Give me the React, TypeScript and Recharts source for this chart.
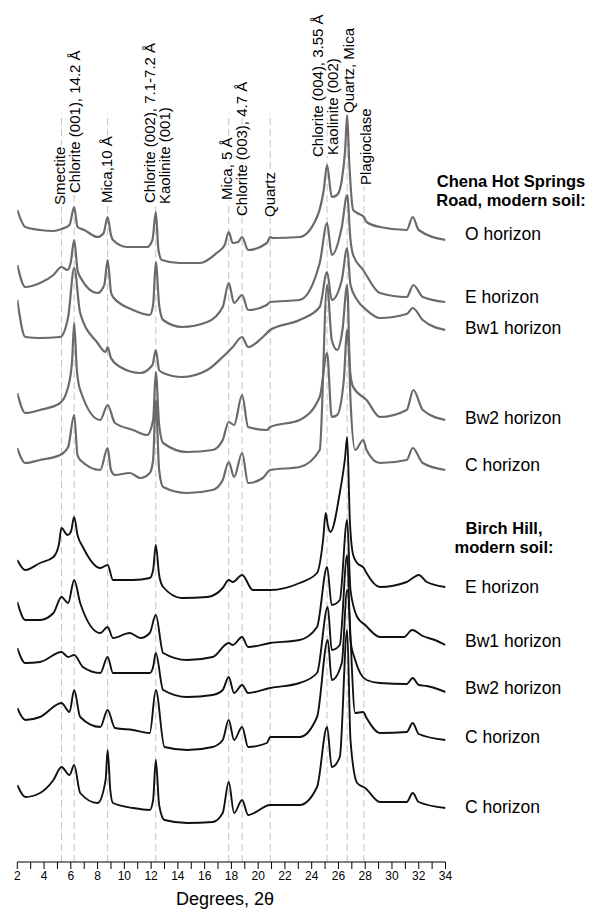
import React from 'react'
import { ComposedChart, Line, XAxis, YAxis, ReferenceLine } from 'recharts'

type Pt = [number, number]

const FONT = '"Liberation Sans", Arial, Helvetica, sans-serif'

// 2-theta ticks (every degree, labels on even ones)
const twoThetaTicks = [2, 3, 4, 5, 6, 7, 8, 9, 10, 11, 12, 13, 14, 15, 16, 17, 18, 19, 20, 21, 22, 23, 24, 25, 26, 27, 28, 29, 30, 31, 32, 33, 34]

// reference peak positions, degrees 2-theta
const peakPositions = [5.3, 6.25, 8.75, 12.35, 17.8, 18.8, 20.9, 25.15, 26.65, 27.9]

// stacked intensities [2-theta, offset counts]
const chenaO: Pt[] = [
  [2.0, 652], [2.6, 635], [3.7, 632], [4.7, 631], [5.3, 633], [5.9, 637], [6.25, 655], [6.5, 635], [7.0, 632],
  [8.0, 625], [8.45, 629], [8.75, 645], [9.0, 627], [9.15, 622], [10.2, 615], [11.7, 615], [12.1, 622], [12.35, 650],
  [12.55, 612], [12.8, 602], [14.1, 599], [15.65, 599], [16.9, 609], [17.5, 617], [17.8, 630], [18.1, 619], [18.5, 620],
  [18.8, 625], [19.25, 612], [20.65, 619], [20.9, 625], [21.1, 624], [23.1, 625], [24.4, 645], [24.9, 672], [25.15, 697],
  [25.5, 665], [25.9, 667], [26.25, 682], [26.5, 712], [26.65, 747], [26.8, 702], [27.1, 652], [27.4, 649], [27.9, 645],
  [28.1, 640], [29.1, 635], [31.1, 632], [31.55, 645], [32.0, 632], [34.0, 622],
]

const chenaE: Pt[] = [
  [2.0, 597], [2.6, 575], [3.7, 579], [4.7, 587], [5.3, 595], [5.75, 592], [6.0, 600], [6.25, 622], [6.5, 592], [6.7, 585],
  [8.0, 569], [8.5, 577], [8.75, 602], [9.0, 570], [9.15, 565], [10.65, 552], [11.9, 547], [12.15, 557], [12.35, 600],
  [12.6, 557], [12.9, 542], [14.3, 535], [16.2, 540], [17.35, 555], [17.8, 579], [18.2, 559], [18.8, 567], [19.25, 552],
  [20.65, 557], [20.9, 560], [23.1, 562], [24.6, 599], [25.15, 639], [25.5, 607], [26.25, 635], [26.65, 667], [26.9, 622],
  [27.1, 607], [27.85, 592], [29.1, 569], [31.1, 565], [31.6, 577], [32.3, 565], [34.0, 560],
]

const chenaBw1: Pt[] = [
  [2.0, 562], [2.6, 525], [3.7, 524], [5.2, 525], [5.8, 545], [6.25, 594], [6.7, 549], [8.0, 519], [8.6, 510], [8.75, 515],
  [9.0, 504], [9.7, 495], [11.2, 489], [12.1, 497], [12.35, 512], [12.6, 492], [12.9, 489], [14.3, 485], [16.2, 492],
  [17.35, 505], [18.1, 515], [18.8, 525], [19.25, 515], [20.35, 525], [20.9, 532], [23.1, 542], [24.6, 555], [25.15, 590],
  [25.5, 562], [26.25, 582], [26.65, 614], [26.9, 577], [27.4, 562], [28.1, 552], [29.1, 544], [31.1, 548], [31.55, 554],
  [32.3, 542], [34.0, 532],
]

const chenaBw2: Pt[] = [
  [2.0, 469], [2.6, 449], [3.7, 452], [5.2, 459], [5.8, 475], [6.1, 502], [6.25, 539], [6.45, 492], [6.7, 472], [8.2, 442],
  [8.75, 457], [9.3, 439], [10.65, 432], [11.7, 427], [12.15, 442], [12.35, 490], [12.6, 437], [12.9, 419], [14.7, 410],
  [16.6, 412], [17.35, 422], [17.8, 440], [18.2, 437], [18.8, 467], [19.25, 435], [20.65, 432], [20.9, 435], [23.1, 442],
  [24.6, 465], [25.15, 509], [25.5, 445], [25.9, 447], [26.4, 482], [26.65, 532], [26.9, 487], [27.1, 475], [28.1, 462],
  [29.1, 445], [31.1, 452], [31.6, 472], [32.3, 452], [34.0, 442],
]

const chenaC: Pt[] = [
  [2.0, 414], [2.6, 399], [3.7, 402], [5.2, 407], [5.8, 415], [6.25, 447], [6.5, 407], [6.7, 402], [8.2, 392], [8.75, 414],
  [9.0, 392], [9.3, 387], [10.4, 389], [11.2, 384], [11.9, 389], [12.15, 402], [12.35, 462], [12.6, 392], [12.9, 375],
  [14.7, 369], [16.6, 372], [17.35, 382], [17.8, 400], [18.2, 385], [18.8, 409], [19.25, 379], [20.35, 384], [20.9, 392],
  [23.1, 395], [24.6, 412], [25.15, 577], [25.5, 522], [25.9, 512], [26.3, 532], [26.65, 577], [26.9, 462], [27.25, 412],
  [27.85, 422], [28.1, 412], [29.1, 399], [31.1, 402], [31.55, 414], [32.3, 399], [34.0, 392],
]

const birchE: Pt[] = [
  [2.0, 302], [2.6, 292], [3.7, 299], [4.7, 305], [5.1, 317], [5.3, 334], [5.75, 327], [6.0, 330], [6.25, 345], [6.5, 327],
  [6.9, 315], [8.2, 294], [8.75, 297], [9.15, 282], [10.65, 282], [11.9, 284], [12.15, 292], [12.35, 317], [12.6, 287],
  [12.9, 275], [14.3, 264], [16.2, 265], [17.35, 274], [17.8, 282], [18.1, 280], [18.8, 287], [19.6, 272], [20.9, 272],
  [23.1, 279], [24.4, 289], [24.85, 322], [25.05, 349], [25.2, 337], [25.4, 330], [26.1, 369], [26.5, 405], [26.65, 425],
  [26.85, 342], [27.1, 307], [27.4, 299], [27.9, 294], [28.1, 289], [29.1, 275], [31.1, 280], [31.55, 284], [32.0, 287],
  [32.6, 280], [34.0, 275],
]

const birchBw1: Pt[] = [
  [2.0, 260], [2.6, 242], [3.7, 242], [4.7, 249], [5.3, 265], [5.8, 259], [6.25, 282], [6.7, 259], [8.2, 229], [8.75, 235],
  [9.15, 224], [10.4, 229], [11.2, 224], [11.9, 229], [12.35, 247], [12.9, 209], [14.7, 202], [16.6, 205], [17.8, 219],
  [18.1, 217], [18.8, 225], [19.25, 215], [20.9, 219], [23.1, 222], [24.4, 235], [25.15, 295], [25.5, 257], [26.1, 262],
  [26.65, 342], [26.9, 272], [27.4, 245], [28.0, 237], [29.1, 225], [30.9, 225], [31.5, 232], [32.3, 226], [33.2, 222],
  [34.0, 217],
]

const birchBw2: Pt[] = [
  [2.0, 214], [2.6, 199], [3.7, 200], [5.3, 210], [5.8, 205], [6.25, 207], [6.9, 195], [8.2, 189], [8.75, 205], [9.15, 189],
  [11.9, 189], [12.15, 195], [12.35, 209], [12.9, 172], [14.7, 165], [16.6, 167], [17.35, 172], [17.8, 185], [18.2, 169],
  [18.8, 177], [19.25, 169], [20.9, 174], [23.1, 179], [24.4, 189], [25.2, 255], [25.5, 212], [26.1, 217], [26.65, 307],
  [26.9, 222], [27.25, 202], [28.1, 182], [29.1, 179], [31.1, 178], [31.55, 184], [32.0, 177], [32.6, 176], [34.0, 170],
]

const birchC1: Pt[] = [
  [2.0, 154], [2.6, 142], [3.7, 145], [5.3, 159], [5.9, 150], [6.25, 172], [6.7, 145], [8.2, 135], [8.75, 152], [9.3, 134],
  [10.65, 132], [11.9, 129], [12.35, 172], [13.0, 115], [14.7, 112], [16.6, 115], [17.35, 122], [17.8, 142], [18.2, 122],
  [18.8, 135], [19.25, 115], [20.65, 119], [20.9, 125], [23.1, 125], [24.4, 145], [25.2, 222], [25.5, 182], [26.25, 199],
  [26.65, 272], [27.25, 149], [27.85, 150], [28.1, 144], [29.1, 129], [31.1, 130], [31.55, 139], [32.0, 128], [34.0, 122],
]

const birchC2: Pt[] = [
  [2.0, 77], [2.6, 65], [3.7, 69], [4.7, 82], [5.3, 95], [5.9, 87], [6.25, 97], [6.7, 69], [8.0, 59], [8.6, 82], [8.75, 112],
  [8.95, 72], [9.15, 59], [10.65, 54], [11.9, 52], [12.15, 62], [12.35, 102], [12.6, 57], [13.0, 42], [14.7, 39], [16.6, 40],
  [17.35, 49], [17.8, 80], [18.2, 49], [18.8, 62], [19.25, 47], [20.9, 57], [23.1, 57], [24.4, 75], [25.15, 135], [25.5, 95],
  [26.1, 105], [26.65, 232], [26.9, 122], [27.4, 79], [28.0, 74], [29.1, 60], [31.1, 60], [31.55, 69], [32.0, 60], [34.0, 54],
]

const GRAY = '#6a6a6a'
const BLACK = '#111111'

const traces = [
  { id: 'chenaO', pts: chenaO, color: GRAY },
  { id: 'chenaE', pts: chenaE, color: GRAY },
  { id: 'chenaBw1', pts: chenaBw1, color: GRAY },
  { id: 'chenaBw2', pts: chenaBw2, color: GRAY },
  { id: 'chenaC', pts: chenaC, color: GRAY },
  { id: 'birchE', pts: birchE, color: BLACK },
  { id: 'birchBw1', pts: birchBw1, color: BLACK },
  { id: 'birchBw2', pts: birchBw2, color: BLACK },
  { id: 'birchC1', pts: birchC1, color: BLACK },
  { id: 'birchC2', pts: birchC2, color: BLACK },
]

const toRows = (pts: Pt[]) => pts.map(([t, v]) => ({ t, v }))

// rotated peak labels: [text, centre x, bottom y]
const peakLabels: [string, number, number][] = [
  ['Smectite', 59.5, 205],
  ['Chlorite (001), 14.2 Å', 74.5, 193],
  ['Mica,10 Å', 106.7, 203],
  ['Chlorite (002), 7.1-7.2 Å', 149.5, 203],
  ['Kaolinite (001)', 164.5, 204],
  ['Mica, 5 Å', 226.7, 200],
  ['Chlorite (003), 4.7 Å', 241.7, 216],
  ['Quartz', 269.5, 217],
  ['Chlorite (004), 3.55 Å', 318, 157],
  ['Kaolinite (002)', 333, 155],
  ['Quartz, Mica', 349, 113],
  ['Plagioclase', 366, 185],
]

const horizonLabels: [string, number][] = [
  ['O horizon', 240],
  ['E horizon', 303],
  ['Bw1 horizon', 334],
  ['Bw2 horizon', 424],
  ['C horizon', 471],
  ['E horizon', 593],
  ['Bw1 horizon', 647],
  ['Bw2 horizon', 694],
  ['C horizon', 743],
  ['C horizon', 813],
]

const LINE_TOP = 749

export default function App() {
  return (
    <div style={{ position: 'absolute', left: 0, top: 0, width: 597, height: 911, background: '#fff', fontFamily: FONT }}>
      <ComposedChart width={597} height={911} margin={{ top: 0, right: 151.5, left: 17.3, bottom: 0 }}>
        <XAxis
          dataKey="t"
          type="number"
          domain={[2, 34]}
          ticks={twoThetaTicks}
          interval={0}
          allowDataOverflow
          height={49}
          tickSize={7}
          stroke="#000"
          tickFormatter={(v: number) => (v % 2 === 0 ? String(v) : '')}
          tick={{ fontSize: 12, fill: '#000', fontFamily: FONT }}
        />
        <YAxis type="number" domain={[0, 862]} hide allowDataOverflow />
        {peakPositions.map((p) => (
          <ReferenceLine
            key={`ref-${p}`}
            segment={[{ x: p, y: 0 }, { x: p, y: LINE_TOP }]}
            stroke="#c4c4c4"
            strokeDasharray="7 4"
            strokeWidth={1}
          />
        ))}
        {traces.map((tr) => (
          <Line
            key={tr.id}
            name={tr.id}
            data={toRows(tr.pts)}
            dataKey="v"
            type="monotone"
            stroke={tr.color}
            strokeWidth={tr.color === GRAY ? 2.2 : 1.9}
            strokeLinejoin="round"
            dot={false}
            isAnimationActive={false}
          />
        ))}
      </ComposedChart>
      <svg width={597} height={911} style={{ position: 'absolute', left: 0, top: 0, pointerEvents: 'none' }}>
        {peakLabels.map(([txt, x, y]) => (
          <text
            key={txt}
            x={x}
            y={y}
            dy="0.35em"
            transform={`rotate(-90 ${x} ${y})`}
            fontSize={15}
            fontFamily={FONT}
            fill="#000"
            stroke="#fff"
            strokeWidth={4}
            paintOrder="stroke"
          >
            {txt}
          </text>
        ))}
        <text x={511} y={187} textAnchor="middle" fontSize={16.5} fontWeight="bold" fontFamily={FONT}>Chena Hot Springs</text>
        <text x={511} y={206} textAnchor="middle" fontSize={16.5} fontWeight="bold" fontFamily={FONT}>Road, modern soil:</text>
        <text x={504} y={534} textAnchor="middle" fontSize={16.5} fontWeight="bold" fontFamily={FONT}>Birch Hill,</text>
        <text x={504} y={553} textAnchor="middle" fontSize={16.5} fontWeight="bold" fontFamily={FONT}>modern soil:</text>
        {horizonLabels.map(([txt, y]) => (
          <text key={`${txt}-${y}`} x={465} y={y} fontSize={17.5} fontFamily={FONT} fill="#000">{txt}</text>
        ))}
        <text x={225} y={905} textAnchor="middle" fontSize={18} fontFamily={FONT} fill="#000">Degrees, 2θ</text>
      </svg>
    </div>
  )
}
